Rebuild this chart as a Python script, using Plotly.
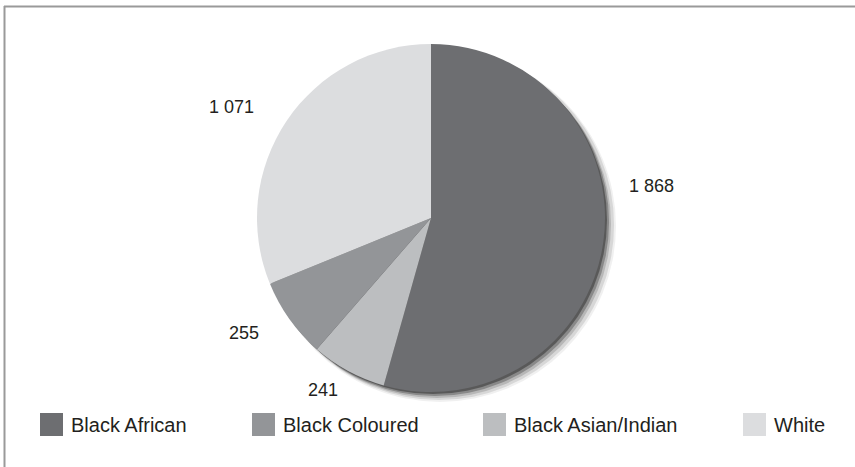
import plotly.graph_objects as go

# Data (slice order clockwise from 12 o'clock, as in the reference)
labels = ["Black African", "Black Asian/Indian", "Black Coloured", "White"]
values = [1868, 241, 255, 1071]
colors = ["#6d6e71", "#bcbec0", "#939598", "#dcdddf"]

# Legend order as shown below the chart
legend_labels = ["Black African", "Black Coloured", "Black Asian/Indian", "White"]

# value-label positions (pixels), same order as labels
label_px = [(651, 186), (323, 390), (244, 333), (232, 107)]

W, H = 855, 467
cx, cy, r = 431, 218, 174
FONT = "Liberation Sans, Arial, sans-serif"

def dom(dx=0, dy=0, dr=0):
    return dict(x=[(cx - r - dr + dx) / W, (cx + r + dr + dx) / W],
                y=[1 - (cy + r + dr + dy) / H, 1 - (cy - r - dr + dy) / H])

fig = go.Figure()

# soft drop shadow layers
for dx, dy, dr, a in [(9, 8, 2, 0.06), (8, 7, 1, 0.10), (6, 6, 0, 0.15), (4, 4, 0, 0.25), (2, 2, 0, 0.35)]:
    fig.add_trace(go.Pie(values=[1], marker=dict(colors=[f"rgba(0,0,0,{a})"]),
                         textinfo="none", hoverinfo="skip", showlegend=False,
                         domain=dom(dx, dy, dr), sort=False))

fig.add_trace(go.Pie(
    labels=labels, values=values, sort=False, direction="clockwise", rotation=0,
    marker=dict(colors=colors, line=dict(width=0)),
    textinfo="none", showlegend=False, domain=dom(), hoverinfo="label+value",
))

# value labels
for v, (px, py) in zip(values, label_px):
    fig.add_annotation(xref="paper", yref="paper", x=px / W, y=1 - py / H,
                       text=f"{v:,}".replace(",", " "), showarrow=False,
                       xanchor="center", yanchor="middle",
                       font=dict(family=FONT, size=18, color="#231f20"))

# custom legend
color_of = dict(zip(labels, colors))
sw_x = [40, 252, 483, 743]
for lab, x0 in zip(legend_labels, sw_x):
    fig.add_shape(type="rect", xref="paper", yref="paper",
                  x0=x0 / W, x1=(x0 + 23) / W, y0=1 - 436 / H, y1=1 - 413 / H,
                  fillcolor=color_of[lab], line=dict(width=0))
    fig.add_annotation(xref="paper", yref="paper", x=(x0 + 29) / W, y=1 - 425 / H,
                       text=lab, showarrow=False, xanchor="left", yanchor="middle",
                       font=dict(family=FONT, size=20, color="#231f20"))

# frame lines (top and left)
fig.add_shape(type="line", xref="paper", yref="paper", x0=4 / W, x1=1, y0=1 - 6.5 / H, y1=1 - 6.5 / H,
              line=dict(color="#9a9a9a", width=2))
fig.add_shape(type="line", xref="paper", yref="paper", x0=4.5 / W, x1=4.5 / W, y0=0, y1=1 - 6 / H,
              line=dict(color="#9a9a9a", width=2))

fig.update_layout(width=W, height=H, margin=dict(l=0, r=0, t=0, b=0),
                  paper_bgcolor="white", plot_bgcolor="white", separators=". ")
fig.write_html("out.html", config={"displayModeBar": False},
               post_script="document.body.style.margin='0';document.body.style.overflow='hidden';")
